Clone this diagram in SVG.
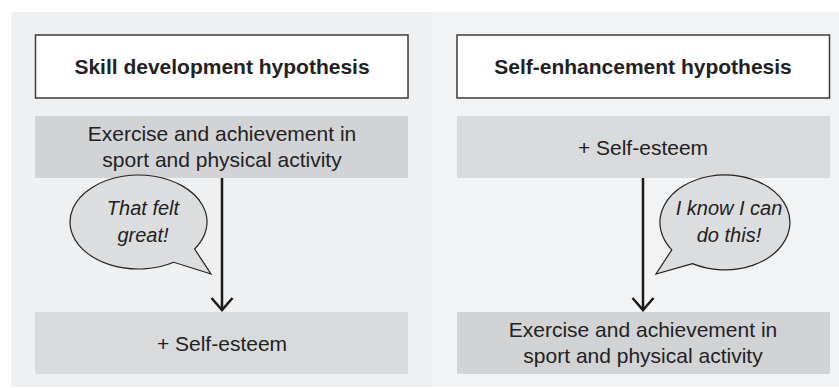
<svg xmlns="http://www.w3.org/2000/svg" width="839" height="388" viewBox="0 0 839 388">
<defs>
<style>
.t{font-family:"Liberation Sans",Arial,sans-serif;fill:#222;text-anchor:middle}
.title{font-size:21px;font-weight:bold}
.body{font-size:21px}
.say{font-size:20px;font-style:italic}
.hdr{fill:#fff;stroke:#3a3a3a;stroke-width:1.5}
.dark{fill:#d2d3d5}
.light{fill:#d9dadc}
.bub{fill:#dcdddf;stroke:#222;stroke-width:1.2}
.arr{stroke:#1a1a1a;stroke-width:2.5;fill:none}
</style>
<marker id="ah" viewBox="-14 -12 16 24" markerWidth="16" markerHeight="24" refX="0" refY="0" orient="auto" markerUnits="userSpaceOnUse">
<path d="M-12,-10.5 L0,0 L-12,10.5" fill="none" stroke="#1a1a1a" stroke-width="2.5"/>
</marker>
</defs>
<rect x="0" y="0" width="839" height="388" fill="#fff"/>
<rect x="11" y="12" width="421" height="375" fill="#eff0f2"/>
<rect x="432" y="12" width="407" height="375" fill="#f2f3f5"/>

<g id="skill-title">
<rect class="hdr" x="35.5" y="35" width="372.5" height="63"/>
<text class="t title" x="222" y="74">Skill development hypothesis</text>
</g>
<g id="skill-exercise">
<rect class="dark" x="35" y="116" width="373" height="62"/>
<text class="t body" x="222" y="141">Exercise and achievement in</text>
<text class="t body" x="222" y="167">sport and physical activity</text>
</g>
<g id="skill-esteem">
<rect class="light" x="35" y="312" width="373" height="62"/>
<text class="t body" x="222" y="351">+ Self-esteem</text>
</g>

<g id="enh-title">
<rect class="hdr" x="457" y="35" width="372.5" height="63"/>
<text class="t title" x="643" y="74">Self-enhancement hypothesis</text>
</g>
<g id="enh-esteem">
<rect class="light" x="457" y="116" width="373" height="62"/>
<text class="t body" x="643" y="155">+ Self-esteem</text>
</g>
<g id="enh-exercise">
<rect class="dark" x="457" y="312" width="373" height="62"/>
<text class="t body" x="643" y="337">Exercise and achievement in</text>
<text class="t body" x="643" y="363">sport and physical activity</text>
</g>

<g id="connectors">
<line class="arr" x1="222" y1="178" x2="222" y2="310" marker-end="url(#ah)"/>
<line class="arr" x1="643" y1="178" x2="643" y2="310" marker-end="url(#ah)"/>
</g>

<g id="bubble-left">
<path class="bub" d="M194.6,249 L211,274 L173.8,262.3 A68.5,47 0 1 1 194.6,249 Z"/>
<text class="t say" x="143" y="215">That felt</text>
<text class="t say" x="143" y="242">great!</text>
</g>
<g id="bubble-right">
<path class="bub" d="M692.5,263.6 L656,274 L671.8,249.8 A65,47.5 0 1 1 692.5,263.6 Z"/>
<text class="t say" x="729" y="215">I know I can</text>
<text class="t say" x="729" y="242">do this!</text>
</g>
</svg>
